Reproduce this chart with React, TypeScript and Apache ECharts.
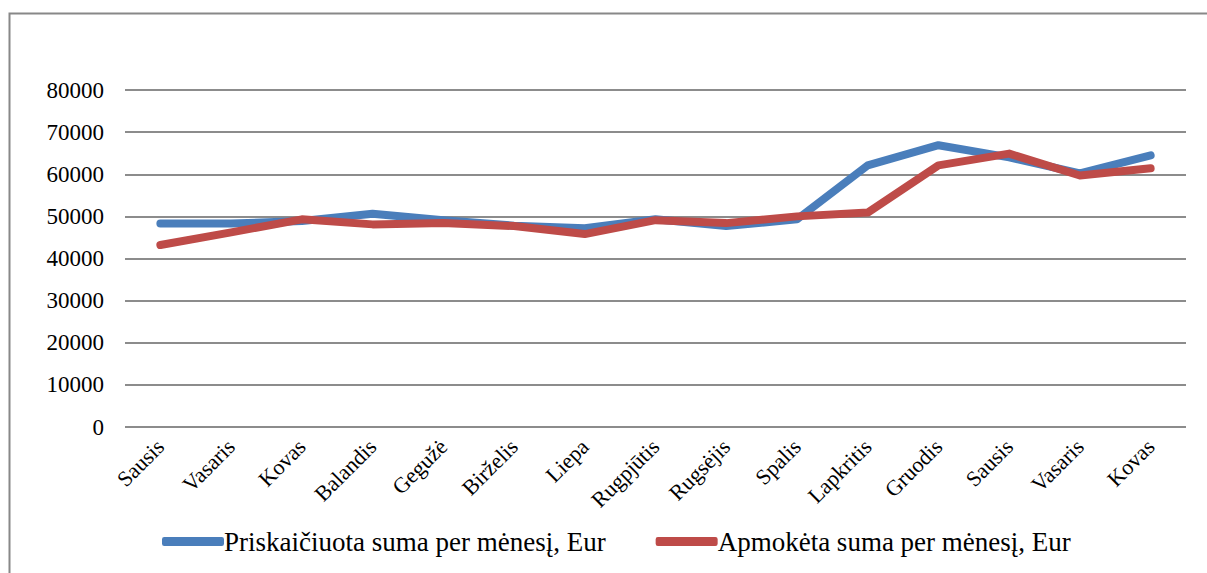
import React, { useEffect, useRef } from "react";
import * as echarts from "echarts";

const categories = ["Sausis", "Vasaris", "Kovas", "Balandis", "Gegužė", "Birželis", "Liepa", "Rugpjūtis", "Rugsėjis", "Spalis", "Lapkritis", "Gruodis", "Sausis", "Vasaris", "Kovas"];
const priskaiciuota = [48300, 48300, 48900, 50600, 49100, 47800, 47200, 49300, 47700, 49300, 62100, 66900, 64000, 60200, 64500];
const apmoketa = [43200, 46200, 49300, 48100, 48400, 47700, 45800, 49100, 48400, 50000, 50900, 62100, 64900, 59700, 61400];
const seriesNames = ["Priskaičiuota suma per mėnesį, Eur", "Apmokėta suma per mėnesį, Eur"];
const colors = ["#4A7EBB", "#BE4B48"];

const font = "'Liberation Serif', 'Times New Roman', serif";

export default function App() {
  const ref = useRef<HTMLDivElement>(null);
  useEffect(() => {
    const chart = echarts.init(ref.current!, null, { renderer: "svg" });
    chart.setOption({
      animation: false,
      textStyle: { fontFamily: font },
      graphic: [
        {
          type: "rect",
          shape: { x: 9.5, y: 13.5, width: 1210, height: 600 },
          style: { fill: "none", stroke: "#888", lineWidth: 2 },
          silent: true,
        },
      ],
      grid: { left: 125, right: 21, top: 90, bottom: 146 },
      xAxis: {
        type: "category",
        data: categories,
        boundaryGap: true,
        axisLine: { show: false },
        axisTick: { show: false },
        axisLabel: { rotate: 45, fontSize: 22, color: "#000", fontFamily: font, margin: 16, interval: 0 },
      },
      yAxis: {
        type: "value",
        min: 0,
        max: 80000,
        interval: 10000,
        axisLine: { show: false },
        axisTick: { show: false },
        splitLine: { lineStyle: { color: "#8c8c8c", width: 2 } },
        axisLabel: { fontSize: 23, color: "#000", fontFamily: font, margin: 21, formatter: (v: number) => String(v) },
      },
      legend: {
        left: 157,
        top: 523,
        itemWidth: 62,
        itemHeight: 9,
        itemGap: 50,
        icon: "roundRect",
        textStyle: { fontSize: 27, color: "#000", fontFamily: font, padding: [0, 0, 0, -5] },
        data: seriesNames,
      },
      series: [
        {
          name: seriesNames[0],
          type: "line",
          data: priskaiciuota,
          symbol: "none",
          lineStyle: { width: 8, color: colors[0], cap: "round", join: "round" },
          itemStyle: { color: colors[0] },
        },
        {
          name: seriesNames[1],
          type: "line",
          data: apmoketa,
          symbol: "none",
          lineStyle: { width: 8, color: colors[1], cap: "round", join: "round" },
          itemStyle: { color: colors[1] },
        },
      ],
    });
    return () => chart.dispose();
  }, []);
  return (
    <div
      ref={ref}
      style={{ position: "absolute", left: 0, top: 0, width: 1207, height: 573, background: "#fff" }}
    />
  );
}
